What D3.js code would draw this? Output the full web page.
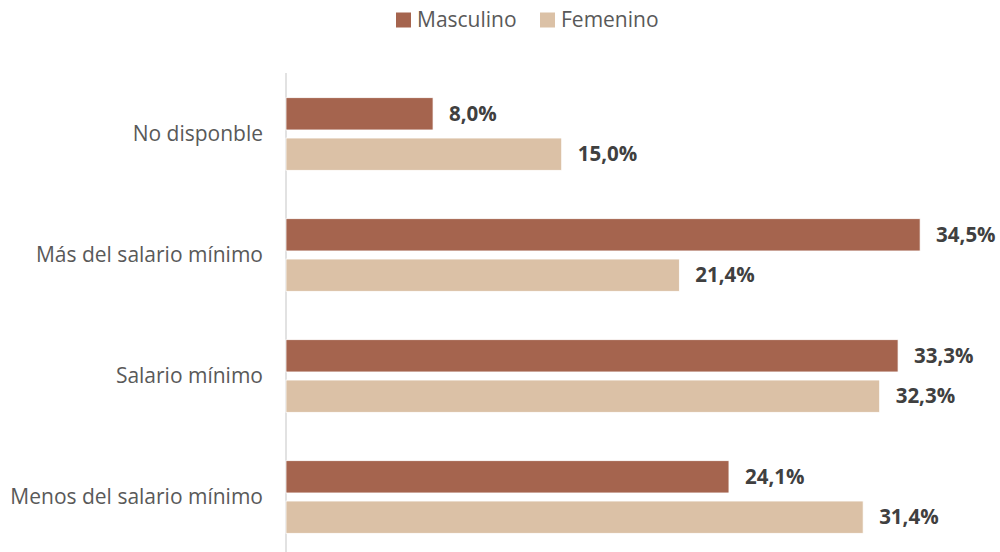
<!DOCTYPE html>
<html>
<head>
<meta charset="utf-8">
<script src="https://cdn.jsdelivr.net/npm/d3@7"></script>
<style>
  body { margin: 0; background: #fff; }
  text { font-family: "Open Sans", Lato, sans-serif; }
</style>
</head>
<body>
<svg id="chart"></svg>
<script>
// chart values
const categories = ['No disponble', 'Más del salario mínimo', 'Salario mínimo', 'Menos del salario mínimo'];
const seriesNames = ['Masculino', 'Femenino'];
const masculino = [8.0, 34.5, 33.3, 24.1];
const femenino = [15.0, 21.4, 32.3, 31.4];
const colors = ['#A5644E', '#DBC1A6'];

const width = 1000, height = 552;
const margin = {top: 73.5, right: 80, bottom: -5.5, left: 286};

const svg = d3.select('#chart')
    .attr('width', width)
    .attr('height', height);

const data = categories.map((c, i) => ({
  cat: c,
  values: [
    {key: seriesNames[0], value: masculino[i]},
    {key: seriesNames[1], value: femenino[i]}
  ]
}));

// scales
const xScale = d3.scaleLinear()
    .domain([0, 40])
    .range([margin.left, margin.left + 40 * 18.38]);

const y0 = d3.scaleBand()
    .domain(categories)
    .range([margin.top, height - margin.bottom])
    .paddingInner(0.4)
    .paddingOuter(0.2);

const y1 = d3.scaleBand()
    .domain(seriesNames)
    .range([0, y0.bandwidth()])
    .paddingInner(0.2);

const color = d3.scaleOrdinal().domain(seriesNames).range(colors);

// category axis
const yAxis = d3.axisLeft(y0).tickSize(0).tickPadding(23);
const yAxisG = svg.append('g')
    .attr('transform', `translate(${margin.left},0)`)
    .call(yAxis);
yAxisG.select('.domain').remove();
yAxisG.selectAll('text')
    .attr('fill', '#595959')
    .style('font-size', '21px');

svg.append('line')
    .attr('x1', margin.left).attr('x2', margin.left)
    .attr('y1', 73).attr('y2', height)
    .attr('stroke', '#d9d9d9')
    .attr('stroke-width', 1.5);

// bars
const groups = svg.selectAll('.group')
    .data(data)
  .join('g')
    .attr('class', 'group')
    .attr('transform', d => `translate(0,${y0(d.cat)})`);

groups.selectAll('rect')
    .data(d => d.values)
  .join('rect')
    .attr('x', xScale(0))
    .attr('y', d => y1(d.key))
    .attr('width', d => xScale(d.value) - xScale(0))
    .attr('height', y1.bandwidth())
    .attr('fill', d => color(d.key))
    .attr('stroke', '#fff')
    .attr('stroke-width', 0.75);

groups.selectAll('.label')
    .data(d => d.values)
  .join('text')
    .attr('class', 'label')
    .attr('x', d => xScale(d.value) + 16)
    .attr('y', d => y1(d.key) + y1.bandwidth() / 2)
    .attr('dy', '0.35em')
    .attr('fill', '#404040')
    .style('font-size', '20.5px')
    .style('font-weight', 'bold')
    .text(d => d.value.toFixed(1).replace('.', ',') + '%');

// legend
const legendX = [396, 540];
const legend = svg.selectAll('.legend')
    .data(seriesNames)
  .join('g')
    .attr('class', 'legend')
    .attr('transform', (d, i) => `translate(${legendX[i]},20)`);

legend.append('rect')
    .attr('x', 0).attr('y', -7.5)
    .attr('width', 15).attr('height', 15)
    .attr('fill', d => color(d));

legend.append('text')
    .attr('x', 21)
    .attr('y', 0)
    .attr('dy', '0.35em')
    .attr('fill', '#595959')
    .style('font-size', '21px')
    .text(d => d);
</script>
</body>
</html>
